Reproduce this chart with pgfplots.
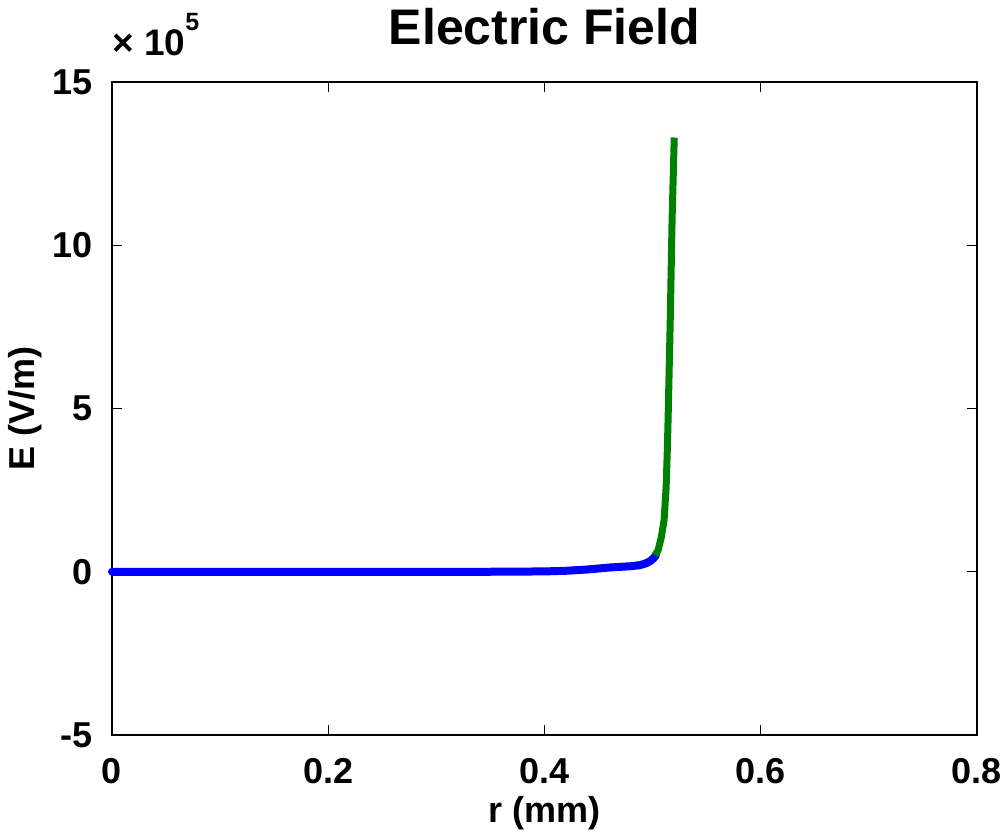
\documentclass[border=0pt]{standalone}
\usepackage{fontspec}
\setmainfont{Liberation Sans}
\usepackage{pgfplots}
\pgfplotsset{compat=1.18}
\definecolor{mblue}{rgb}{0,0,1}
\definecolor{mgreen}{rgb}{0,0.5,0}
\begin{document}
\begin{tikzpicture}
\begin{axis}[
  scale only axis, width=432.5pt, height=326.5pt,
  xmin=0, xmax=0.8, ymin=-5, ymax=15,
  xtick={0,0.2,0.4,0.6,0.8}, ytick={-5,0,5,10,15},
  tick pos=both, tick align=inside, major tick length=5pt,
  tick style={black, line width=0.6pt},
  axis line style={black, line width=0.8pt},
  /pgf/number format/assume math mode=true,
  xticklabel style={/pgf/number format/fixed, inner sep=0pt, anchor=base, yshift=-24pt},
  yticklabel style={inner sep=0pt, anchor=east, xshift=-9.5pt},
  tick label style={font=\fontsize{18}{18}\selectfont\bfseries},
  title={Electric Field},
  title style={at={(axis description cs:0.5,1)}, anchor=base, yshift=13pt, inner sep=0pt, font=\fontsize{25}{25}\selectfont\bfseries},
  xlabel={r (mm)},
  xlabel style={at={(axis description cs:0.5,0)}, anchor=base, yshift=-43.5pt, inner sep=0pt, font=\fontsize{18}{18}\selectfont\bfseries},
  ylabel={E (V/m)},
  ylabel style={at={(axis description cs:-0.1006,0.5)}, anchor=center, inner sep=0pt, font=\fontsize{18}{18}\selectfont\bfseries},
  clip=false,
]
\addplot[mblue, line width=4pt, line join=round, line cap=round] coordinates {
(0.000,0.00) (0.05,0.00) (0.10,0.00) (0.15,0.00) (0.20,0.00) (0.25,0.00)
(0.30,0.00) (0.35,0.00) (0.40,0.01) (0.42,0.03) (0.44,0.07) (0.45,0.10)
(0.46,0.13) (0.47,0.15) (0.48,0.17) (0.488,0.20) (0.494,0.26) (0.498,0.33)
(0.501,0.42) (0.503,0.50)
};
\addplot[mgreen, line width=3.5pt, line join=round] coordinates {
(0.502,0.50) (0.505,0.65) (0.508,1.05) (0.5106,1.58) (0.5125,2.59)
(0.5135,3.63) (0.5143,4.65) (0.5163,7.7) (0.518,10.77) (0.520,13.3)
};
\node[anchor=base west, inner sep=0pt, font=\fontsize{18.5}{18.5}\selectfont\bfseries]
  at (rel axis cs:0,1) [yshift=13.5pt] {× 10\raisebox{12.5pt}{\fontsize{12.5}{12.5}\selectfont\bfseries 5}};
\end{axis}
\path[use as bounding box] (-56pt,-48.5pt) rectangle (448pt,367.5pt);
\end{tikzpicture}
\end{document}
